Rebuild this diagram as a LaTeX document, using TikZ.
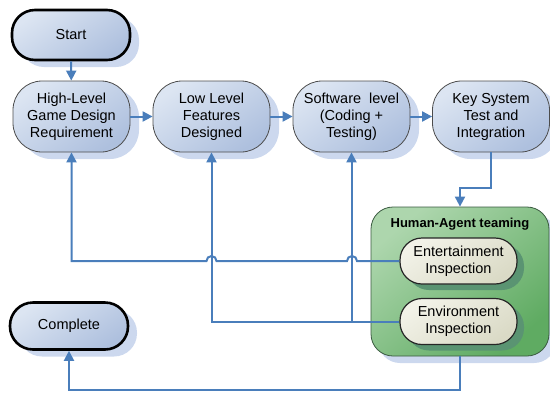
\documentclass[tikz,border=0pt]{standalone}
\usepackage{fontspec}
\setmainfont{Liberation Sans}
\usetikzlibrary{shadows,arrows.meta}
\definecolor{ln}{HTML}{4A7EBB}
\definecolor{bt}{HTML}{DCE5F2}
\definecolor{bb}{HTML}{AEC0DE}
\definecolor{sh}{HTML}{CCD8EE}
\definecolor{gt}{HTML}{ADD6AD}
\definecolor{gb}{HTML}{5FAB62}
\definecolor{gdk}{HTML}{3A5A40}
\definecolor{it}{HTML}{F2F2E8}
\definecolor{ib}{HTML}{DADAC6}
\definecolor{ish}{HTML}{5A9472}
\begin{document}
\begin{tikzpicture}[x=1pt,y=-1pt,
  box/.style={rectangle, rounded corners=29pt, draw=black!70, line width=0.8pt,
    top color=bt, bottom color=bb, shading angle=35,
    minimum width=117pt, minimum height=71pt, align=center,
    font=\fontsize{14.5}{17}\selectfont,
    drop shadow={shadow xshift=9pt, shadow yshift=-7pt, fill=sh, opacity=1}},
  term/.style={box, draw=black, line width=2.6pt, minimum width=118pt, rounded corners=23pt},
  grpbox/.style={rectangle, rounded corners=22pt, draw=gdk, line width=0.8pt,
    top color=gt, bottom color=gb, shading angle=40,
    minimum width=178pt, minimum height=149pt,
    drop shadow={shadow xshift=7pt, shadow yshift=-7pt, fill=sh, opacity=1}},
  inbox/.style={rectangle, rounded corners=22pt, draw=black!85, line width=1.2pt,
    top color=it, bottom color=ib, shading angle=35,
    minimum width=117pt, minimum height=46pt, align=center,
    font=\fontsize{14.5}{17}\selectfont,
    drop shadow={shadow xshift=7pt, shadow yshift=-6pt, fill=ish, opacity=1}},
  conn/.style={draw=ln, line width=2pt},
  arr/.style={conn, -{Triangle[length=10pt,width=10pt]}}
]
\useasboundingbox (0,0) rectangle (550,392);

\node[term, minimum height=50pt] (start) at (71,35) {Start};
\node[box] (hl) at (71.5,116.5) {High-Level\\Game Design\\Requirement};
\node[box] (ll) at (211.5,116.5) {Low Level\\Features\\Designed};
\node[box] (sw) at (351.5,116.5) {Software\ \ level\\(Coding +\\Testing)};
\node[box] (ks) at (491,116.5) {Key System\\Test and\\Integration};

\node[grpbox] (grp) at (460,281.5) {};
\node[font=\bfseries\fontsize{13}{15}\selectfont] (title) at (460,224) {Human-Agent teaming};
\node[inbox] (ent) at (458.5,261) {Entertainment\\Inspection};
\node[inbox] (env) at (458.5,321.5) {Environment\\Inspection};

\node[term, minimum height=47pt] (comp) at (69,326) {Complete};

\draw[arr] (start) -- (hl);
\draw[arr] (hl) -- (ll);
\draw[arr] (ll) -- (sw);
\draw[arr] (sw) -- (ks);
\draw[arr] (ks.south) -- (ks.south |- 0,188) -| (grp.north);

\coordinate (j1) at (352,261);
\coordinate (j2) at (211.5,261);
\draw[arr] (ent.west) -- ([xshift=5pt]j1)
  arc[start angle=0, end angle=180, radius=5pt]
  -- ([xshift=5pt]j2)
  arc[start angle=0, end angle=180, radius=5pt]
  -- (hl.south |- j1) -- (hl.south);

\coordinate (br) at (351.5,321.5);
\draw[arr] (env.west) -- (ll.south |- br) -- (ll.south);
\draw[arr] (br) -- (sw.south);

\draw[arr] (grp.south) -- (grp.south |- 0,390) -| (comp.south);
\end{tikzpicture}
\end{document}
